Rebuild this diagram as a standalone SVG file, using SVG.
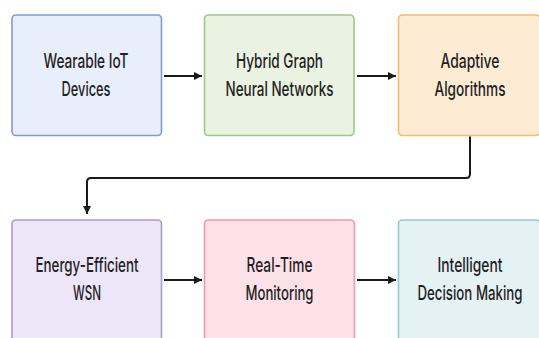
<svg xmlns="http://www.w3.org/2000/svg" width="539" height="338" viewBox="0 0 539 338">
<defs>
<style>
.box{stroke-width:1.6}
.t{font-family:Inter,"Liberation Sans",sans-serif;font-size:16px;font-weight:500;fill:#1f1f1f;text-anchor:middle}
.c{fill:none;stroke:#1a1a1a;stroke-width:2}
</style>
<marker id="ah" viewBox="0 0 10 10" refX="10" refY="5" markerWidth="8" markerHeight="11" markerUnits="userSpaceOnUse" orient="auto">
<path d="M0,0 L10,5 L0,10 z" fill="#1a1a1a"/>
</marker>
</defs>
<rect width="539" height="338" fill="#ffffff"/>
<g id="n1">
<rect class="box" x="12" y="15" width="149.5" height="120.5" rx="4" fill="#e8eefb" stroke="#7f9bd3"/>
<g transform="scale(1 1.25)">
<text class="t" x="86" y="54.4" textLength="85" lengthAdjust="spacingAndGlyphs">Wearable IoT</text>
<text class="t" x="86" y="76.8" textLength="49" lengthAdjust="spacingAndGlyphs">Devices</text>
</g>
</g>
<g id="n2">
<rect class="box" x="204.5" y="15" width="149.5" height="120.5" rx="4" fill="#eaf3e2" stroke="#9dc986"/>
<g transform="scale(1 1.25)">
<text class="t" x="279.5" y="54.4" textLength="87" lengthAdjust="spacingAndGlyphs">Hybrid Graph</text>
<text class="t" x="279.5" y="76.8" textLength="108" lengthAdjust="spacingAndGlyphs">Neural Networks</text>
</g>
</g>
<g id="n3">
<rect class="box" x="398.5" y="15" width="141.5" height="120.5" rx="4" fill="#fdecd3" stroke="#f4bb72"/>
<g transform="scale(1 1.25)">
<text class="t" x="470" y="54.4" textLength="59" lengthAdjust="spacingAndGlyphs">Adaptive</text>
<text class="t" x="470" y="76.8" textLength="71" lengthAdjust="spacingAndGlyphs">Algorithms</text>
</g>
</g>
<g id="n4">
<rect class="box" x="12" y="220" width="149.5" height="125" rx="4" fill="#ece6f8" stroke="#a99ccf"/>
<g transform="scale(1 1.25)">
<text class="t" x="87" y="217.6" textLength="103" lengthAdjust="spacingAndGlyphs">Energy-Efficient</text>
<text class="t" x="87" y="240" textLength="28" lengthAdjust="spacingAndGlyphs">WSN</text>
</g>
</g>
<g id="n5">
<rect class="box" x="204.5" y="220" width="150" height="125" rx="4" fill="#fce2e8" stroke="#ec98ad"/>
<g transform="scale(1 1.25)">
<text class="t" x="279.5" y="217.6" textLength="66" lengthAdjust="spacingAndGlyphs">Real-Time</text>
<text class="t" x="279.5" y="240" textLength="68" lengthAdjust="spacingAndGlyphs">Monitoring</text>
</g>
</g>
<g id="n6">
<rect class="box" x="398.5" y="220" width="141.5" height="125" rx="4" fill="#e4f2f4" stroke="#8ecbd0"/>
<g transform="scale(1 1.25)">
<text class="t" x="470" y="217.6" textLength="65" lengthAdjust="spacingAndGlyphs">Intelligent</text>
<text class="t" x="470" y="240" textLength="105" lengthAdjust="spacingAndGlyphs">Decision Making</text>
</g>
</g>
<g id="connectors">
<line class="c" x1="164" y1="76" x2="202" y2="76" marker-end="url(#ah)"/>
<line class="c" x1="357" y1="76" x2="396" y2="76" marker-end="url(#ah)"/>
<path class="c" d="M470,136.5 V174 Q470,178 466,178 H91 Q87,178 87,182 V214" marker-end="url(#ah)"/>
<line class="c" x1="164" y1="280" x2="202" y2="280" marker-end="url(#ah)"/>
<line class="c" x1="357" y1="280" x2="396" y2="280" marker-end="url(#ah)"/>
</g>
</svg>
